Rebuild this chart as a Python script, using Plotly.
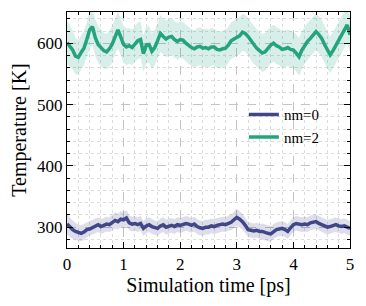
import plotly.graph_objects as go

time_ps = [round(i * 0.05, 2) for i in range(101)]

temp_nm0 = [305, 300, 296, 293, 291, 290, 292, 296, 297, 299,
            302, 304, 301, 303, 305, 304, 308, 311, 309, 313,
            312, 315, 307, 305, 306, 304, 306, 298, 302, 304,
            301, 299, 298, 302, 304, 300, 302, 303, 301, 304,
            303, 304, 306, 305, 303, 305, 301, 299, 298, 300,
            300, 302, 301, 303, 304, 305, 304, 306, 308, 312,
            316, 313, 309, 303, 296, 295, 294, 295, 293, 293,
            291, 290, 289, 293, 296, 297, 298, 296, 293, 299,
            304, 306, 305, 304, 305, 304, 307, 308, 309, 306,
            304, 302, 300, 301, 303, 304, 302, 301, 302, 300,
            298]

temp_nm2 = [601, 596, 589, 579, 577, 585, 592, 606, 622, 627,
            609, 598, 593, 588, 586, 591, 599, 612, 622, 610,
            598, 594, 596, 593, 599, 604, 606, 583, 597, 598,
            587, 593, 604, 616, 611, 607, 610, 611, 606, 603,
            606, 605, 600, 596, 593, 591, 594, 595, 592, 593,
            591, 594, 594, 590, 589, 591, 592, 597, 604, 607,
            610, 612, 618, 616, 611, 604, 597, 592, 588, 584,
            586, 592, 597, 600, 596, 594, 590, 591, 593, 590,
            589, 584, 578, 589, 597, 603, 608, 614, 619, 614,
            608, 598, 589, 581, 588, 596, 604, 612, 622, 630,
            614]

std_nm0 = [17, 16, 15, 14, 13, 13, 13, 12, 12, 12,
           12, 12, 12, 12, 12, 12, 13, 13, 13, 13,
           13, 13, 12, 12, 12, 12, 12, 12, 12, 12,
           12, 12, 12, 12, 12, 12, 12, 12, 12, 12,
           12, 12, 12, 12, 12, 12, 12, 12, 12, 12,
           12, 12, 12, 12, 12, 12, 12, 12, 13, 13,
           14, 13, 13, 12, 12, 12, 12, 12, 12, 13,
           13, 13, 13, 12, 12, 12, 12, 12, 12, 12,
           12, 12, 12, 12, 12, 12, 12, 12, 12, 12,
           12, 12, 12, 12, 12, 12, 12, 12, 12, 12,
           12]

std_nm2 = [36, 34, 32, 30, 28, 28, 28, 29, 30, 30,
           30, 30, 30, 29, 29, 29, 30, 30, 30, 30,
           30, 30, 29, 29, 29, 30, 30, 30, 30, 30,
           29, 29, 29, 30, 30, 30, 30, 30, 30, 30,
           30, 30, 30, 30, 30, 30, 31, 31, 31, 31,
           31, 31, 30, 30, 30, 30, 30, 30, 30, 30,
           30, 30, 30, 30, 30, 31, 31, 31, 31, 31,
           31, 31, 30, 30, 30, 30, 30, 30, 30, 30,
           30, 30, 31, 31, 30, 30, 30, 30, 30, 30,
           30, 30, 30, 30, 30, 30, 30, 30, 30, 30,
           30]

series_names = ["nm=0", "nm=2"]
series_colors = ["#404788", "#23a47d"]
band_colors = ["rgba(64,71,136,0.18)", "rgba(35,164,125,0.18)"]

SERIF = "Liberation Serif"

fig = go.Figure()
for name, mean, std, col, bcol in zip(series_names, [temp_nm0, temp_nm2],
                                      [std_nm0, std_nm2], series_colors, band_colors):
    upper = [m + s for m, s in zip(mean, std)]
    lower = [m - s for m, s in zip(mean, std)]
    fig.add_trace(go.Scatter(x=time_ps + time_ps[::-1], y=upper + lower[::-1],
                             fill="toself", fillcolor=bcol, line=dict(width=0),
                             mode="lines", hoverinfo="skip", showlegend=False))
    fig.add_trace(go.Scatter(x=time_ps, y=mean, mode="lines", name=name,
                             line=dict(color=col, width=3.5)))

axis_common = dict(
    showline=True, linecolor="black", linewidth=1.3, mirror="allticks",
    ticks="inside", ticklen=6, tickwidth=1, tickcolor="black",
    showgrid=True, gridcolor="#c4c4c4", griddash="dash", gridwidth=1,
    zeroline=False,
    tickfont=dict(family=SERIF, size=17, color="black"),
    title_font=dict(family=SERIF, size=20, color="black"),
)

fig.update_xaxes(range=[0, 5], dtick=1, title_text="Simulation time [ps]",
                 title_standoff=5,
                 minor=dict(dtick=0.2, ticks="inside", ticklen=3, tickcolor="black",
                            showgrid=True, gridcolor="#dcdcdc", griddash="dot"),
                 **axis_common)
fig.update_yaxes(range=[266, 651], dtick=100, title_text="Temperature [K]",
                 title_standoff=7,
                 minor=dict(dtick=20, ticks="inside", ticklen=3, tickcolor="black",
                            showgrid=True, gridcolor="#dcdcdc", griddash="dot"),
                 **axis_common)

fig.update_layout(
    width=358, height=298,
    margin=dict(l=59, r=16, t=4, b=58),
    paper_bgcolor="white", plot_bgcolor="white",
    font=dict(family=SERIF, size=17, color="black"),
    legend=dict(x=0.625, y=0.635, xanchor="left", yanchor="top",
                bgcolor="rgba(255,255,255,0)", font=dict(family=SERIF, size=15),
                tracegroupgap=0, itemwidth=30),
    showlegend=True,
)

fig.write_html("out.html")
